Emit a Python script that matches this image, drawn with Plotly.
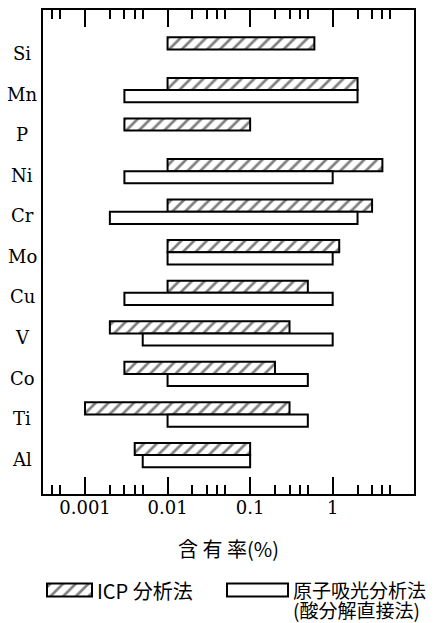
import plotly.graph_objects as go

# ---- data ----
elements = ["Si", "Mn", "P", "Ni", "Cr", "Mo", "Cu", "V", "Co", "Ti", "Al"]
icp_low = [0.01, 0.01, 0.003, 0.01, 0.01, 0.01, 0.01, 0.002, 0.003, 0.001, 0.004]
icp_high = [0.6, 2, 0.1, 4, 3, 1.2, 0.5, 0.3, 0.2, 0.3, 0.1]
aas_low = [None, 0.003, None, 0.003, 0.002, 0.01, 0.003, 0.005, 0.01, 0.01, 0.005]
aas_high = [None, 2, None, 1, 2, 1, 1, 1, 0.5, 0.5, 0.1]
major_ticks = [0.001, 0.01, 0.1, 1]
major_text = ["0.001", "0.01", "0.1", "1"]
minor_ticks = [0.0004, 0.0005,
               0.002, 0.003, 0.004, 0.005,
               0.02, 0.03, 0.04, 0.05,
               0.2, 0.3, 0.4, 0.5,
               2, 3, 4, 5]
series_names = ["ICP 分析法", "原子吸光分析法", "(酸分解直接法)"]
x_title = "含 有 率(%)"

SERIF = "DejaVu Serif"
CJK = "Noto Sans CJK JP"

W, H = 440, 623
TOP = 10
PAPER_H = H - TOP            # margins: t=10, others 0
PLOT_L, PLOT_R, PLOT_B = 43, 414, 494

HATCH = dict(color="white", line=dict(color="black", width=2),
             pattern=dict(shape="/", fgcolor="black", bgcolor="white",
                          size=9, solidity=0.3))
PLAIN = dict(color="white", line=dict(color="black", width=2))

idx = list(range(len(elements)))

# ICP bars (hatched), upper half of each row
icp_y = [i - 0.15 for i in idx]
icp_len = [h - l for l, h in zip(icp_low, icp_high)]

# AAS bars (white), lower half of each row
aas_y = [i + 0.15 for i, l in zip(idx, aas_low) if l is not None]
aas_base = [l for l in aas_low if l is not None]
aas_len = [h - l for l, h in zip(aas_low, aas_high) if l is not None]

fig = go.Figure()
fig.add_trace(go.Bar(
    orientation="h", y=icp_y, x=icp_len, base=icp_low, width=0.3,
    name=series_names[0], marker=HATCH, showlegend=False,
    xaxis="x", yaxis="y",
))
fig.add_trace(go.Bar(
    orientation="h", y=aas_y, x=aas_len, base=aas_base, width=0.3,
    name=series_names[1] + series_names[2], marker=PLAIN, showlegend=False,
    xaxis="x", yaxis="y",
))

# ---- legend drawn in a small inset (pixel-unit axes under the chart) ----
LEG_Y = 590
fig.add_trace(go.Bar(orientation="h", y=[LEG_Y], base=[47], x=[45], width=13,
                     marker=HATCH, showlegend=False, hoverinfo="skip",
                     xaxis="x2", yaxis="y2"))
fig.add_trace(go.Bar(orientation="h", y=[LEG_Y], base=[227], x=[61], width=13,
                     marker=PLAIN, showlegend=False, hoverinfo="skip",
                     xaxis="x2", yaxis="y2"))
fig.add_annotation(x=95, y=LEG_Y, xref="x2", yref="y2", text=series_names[0],
                   showarrow=False, xanchor="left", yanchor="middle",
                   font=dict(family=CJK, size=20, color="black"))
fig.add_annotation(x=291, y=LEG_Y - 1, xref="x2", yref="y2", text=series_names[1],
                   showarrow=False, xanchor="left", yanchor="middle",
                   font=dict(family=CJK, size=19, color="black"))
fig.add_annotation(x=291, y=LEG_Y + 19, xref="x2", yref="y2", text=series_names[2],
                   showarrow=False, xanchor="left", yanchor="middle",
                   font=dict(family=CJK, size=19, color="black"))

# element labels, centred left of the frame
for i, el in zip(idx, elements):
    fig.add_annotation(x=22 / W, xref="paper", y=i + 0.1, yref="y",
                       text=el, showarrow=False, xanchor="center",
                       font=dict(family=SERIF, size=18, color="black"))

fig.update_layout(
    width=W, height=H,
    margin=dict(l=0, r=0, t=TOP, b=0, autoexpand=False),
    paper_bgcolor="white", plot_bgcolor="white",
    barmode="overlay",
    showlegend=False,
    xaxis=dict(
        domain=[PLOT_L / W, PLOT_R / W], anchor="y", automargin=False,
        type="log", range=[-3.509, 0.985],
        tickmode="array", tickvals=major_ticks, ticktext=major_text,
        ticks="inside", ticklen=17, tickwidth=1.5, tickcolor="black",
        ticklabelstandoff=-4,
        minor=dict(ticks="inside", ticklen=9, tickwidth=1.5,
                   tickcolor="black", tickmode="array", tickvals=minor_ticks),
        showline=True, linewidth=2, linecolor="black", mirror="allticks",
        showgrid=False, zeroline=False,
        tickfont=dict(family=SERIF, size=18, color="black"),
        title=dict(text=x_title, standoff=26,
                   font=dict(family=CJK, size=20, color="black")),
    ),
    yaxis=dict(
        domain=[(H - PLOT_B) / PAPER_H, 1], anchor="x", automargin=False,
        range=[10.96, -0.974], showticklabels=False, ticks="",
        showline=True, linewidth=2, linecolor="black", mirror=True,
        showgrid=False, zeroline=False,
    ),
    xaxis2=dict(domain=[0, 1], range=[0, W], anchor="y2", visible=False,
                fixedrange=True),
    yaxis2=dict(domain=[0, (H - PLOT_B) / PAPER_H], range=[H, PLOT_B],
                anchor="x2", visible=False, fixedrange=True),
)

fig.write_html("out.html",
               config={"displayModeBar": False},
               post_script="document.body.style.margin='0px';")
